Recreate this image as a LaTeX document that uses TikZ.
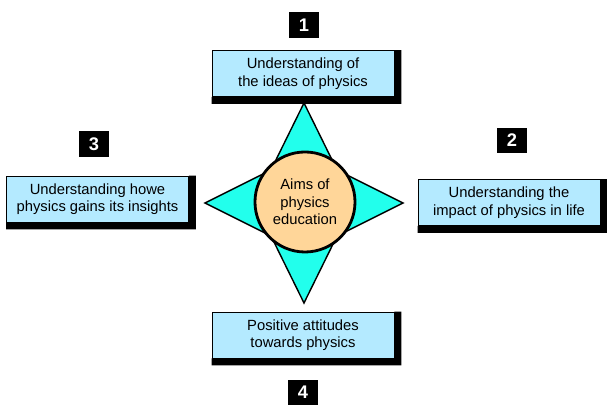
\documentclass[tikz,border=0pt]{standalone}
\usepackage{fontspec}
\setmainfont{Liberation Sans}
\usetikzlibrary{calc}
\definecolor{starcyan}{RGB}{34,255,236}
\definecolor{peach}{RGB}{255,214,153}
\definecolor{boxblue}{RGB}{180,234,255}

\begin{document}
\begin{tikzpicture}[x=0.025cm,y=0.025cm,
	aimbox/.style={draw=black,line width=0.6pt,fill=boxblue,minimum width=4.55cm,minimum height=1.15cm,align=center,font=\fontsize{10.5}{12.5}\selectfont},
	numbox/.style={fill=black,text=white,minimum width=0.77cm,minimum height=0.63cm,inner sep=0pt,font=\fontsize{13}{15}\selectfont\bfseries}]
	\useasboundingbox (0,0) rectangle (607,411);
	% four-pointed star behind the circle
	\draw[fill=starcyan,line width=1pt,line join=miter] (304,308) -- (337,241) -- (403,208) -- (337,175) -- (304,108) -- (271,175) -- (205,208) -- (271,241) -- cycle;
	\node[circle,draw,line width=2pt,fill=peach,minimum size=2.5cm,inner sep=0pt,align=center,font=\fontsize{10.5}{12.5}\selectfont] (aims) at (305,209) {Aims of\\physics\\education};
	\node[aimbox] (aim1) at (303,337.5) {Understanding of\\the ideas of physics};
	\node[aimbox] (aim2) at (509,208.5) {Understanding the\\impact of physics in life};
	\node[aimbox] (aim3) at (97.5,212) {Understanding howe\\physics gains its insights};
	\node[aimbox] (aim4) at (303,76) {Positive attitudes\\towards physics};
	\foreach \n in {aim1,aim2,aim3,aim4}
		\fill (\n.south west) -- ++(0,-7) -| ($(\n.north east)+(7,0)$) -- (\n.north east) -- (\n.south east) -- cycle;
	\node[numbox] (num1) at (304,386) {1};
	\node[numbox] (num2) at (512,270.5) {2};
	\node[numbox] (num3) at (94,267) {3};
	\node[numbox] (num4) at (303,18.5) {4};
	%\draw[->] (num1) -- (aim1);
\end{tikzpicture}
\end{document}
